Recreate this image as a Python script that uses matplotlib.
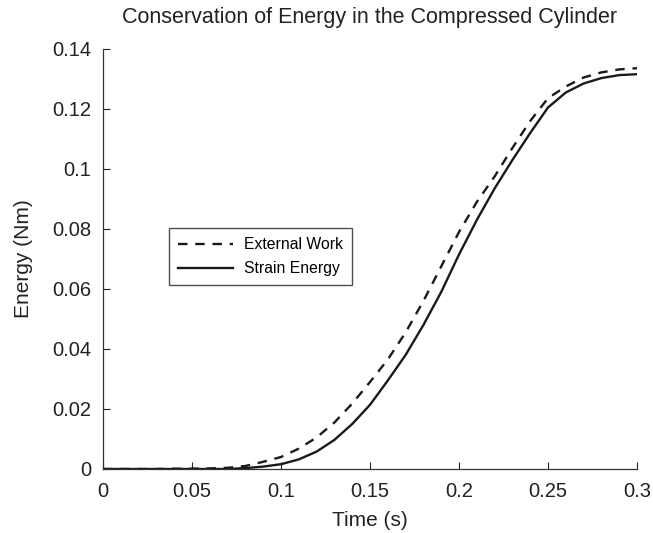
import matplotlib
matplotlib.use("Agg")
import matplotlib.pyplot as plt

plt.rcParams['font.family'] = ['Liberation Sans', 'DejaVu Sans']

time_s = [0.00, 0.01, 0.02, 0.03, 0.04, 0.05, 0.06, 0.07, 0.08, 0.09,
          0.10, 0.11, 0.12, 0.13, 0.14, 0.15, 0.16, 0.17, 0.18, 0.19,
          0.20, 0.21, 0.22, 0.23, 0.24, 0.25, 0.26, 0.27, 0.28, 0.29, 0.30]
external_work = [0.0, 0.0, 0.0, 0.0, 0.0001, 0.0001, 0.0002, 0.0004, 0.0010, 0.0024,
                 0.0040, 0.0068, 0.0105, 0.0155, 0.0218, 0.0290, 0.0365, 0.0455, 0.0560, 0.0675,
                 0.0790, 0.0890, 0.0975, 0.1070, 0.1160, 0.1236, 0.1275, 0.1305, 0.1322, 0.1332, 0.1336]
strain_energy = [0.0, 0.0, 0.0, 0.0, 0.0, 0.0, 0.0, 0.0, 0.0003, 0.0008,
                 0.0016, 0.0032, 0.0058, 0.0097, 0.0150, 0.0214, 0.0295, 0.0380, 0.0480, 0.0590,
                 0.0715, 0.0830, 0.0935, 0.1030, 0.1120, 0.1205, 0.1255, 0.1285, 0.1303, 0.1313, 0.1316]

x_ticks = [0, 0.05, 0.1, 0.15, 0.2, 0.25, 0.3]
x_tick_labels = ['0', '0.05', '0.1', '0.15', '0.2', '0.25', '0.3']
y_ticks = [0, 0.02, 0.04, 0.06, 0.08, 0.1, 0.12, 0.14]
y_tick_labels = ['0', '0.02', '0.04', '0.06', '0.08', '0.1', '0.12', '0.14']

W, H = 653, 533
fig = plt.figure(figsize=(W / 100, H / 100), dpi=100)
left, right, bottom, top = 103, 637, 469, 49
ax = fig.add_axes([left / W, 1 - bottom / H, (right - left) / W, (bottom - top) / H])

ax.plot(time_s, external_work, color='#1a1a1a', lw=1.7, linestyle=(0, (4, 3.3)), label='External Work')
ax.plot(time_s, strain_energy, color='#1a1a1a', lw=1.7, label='Strain Energy')

ax.set_xlim(0, 0.3)
ax.set_ylim(0, 0.14)
ax.set_xticks(x_ticks)
ax.set_xticklabels(x_tick_labels)
ax.set_yticks(y_ticks)
ax.set_yticklabels(y_tick_labels)
ax.tick_params(direction='in', length=5, width=0.8, labelsize=14.5, colors='#222222')
ax.tick_params(axis='x', pad=9.5)
ax.tick_params(axis='y', pad=8.5)
ax.spines['top'].set_visible(False)
ax.spines['right'].set_visible(False)
for s in ['left', 'bottom']:
    ax.spines[s].set_linewidth(0.9)
    ax.spines[s].set_color('#333333')

ax.set_xlabel('Time (s)', fontsize=15, color='#222222', labelpad=7)
ax.set_ylabel('Energy (Nm)', fontsize=15, color='#222222', labelpad=13.5)
ax.set_title('Conservation of Energy in the Compressed Cylinder', fontsize=15.5, color='#222222', pad=18.5)

leg = ax.legend(loc='upper left', bbox_to_anchor=(169 / W, 1 - 228 / H), bbox_transform=fig.transFigure,
                fontsize=11.3, frameon=True, fancybox=False, handlelength=3.5, handletextpad=0.65,
                borderpad=0.6, labelspacing=0.55, borderaxespad=0)
leg.get_frame().set_edgecolor('#222222')
leg.get_frame().set_linewidth(1.0)

fig.savefig('out.png', dpi=100)
